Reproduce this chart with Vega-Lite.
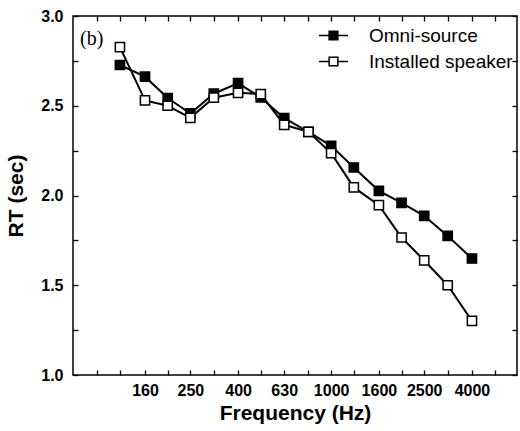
{
  "$schema": "https://vega.github.io/schema/vega-lite/v6.json",
  "width": 444,
  "height": 359,
  "autosize": "none",
  "padding": {"left": 73, "top": 16, "right": 3, "bottom": 56},
  "background": "white",
  "title": {"text": "(b)", "anchor": "start", "frame": "group", "orient": "top", "offset": -12, "dx": 7, "dy": 29, "baseline": "top", "font": "Liberation Serif", "fontSize": 20, "fontWeight": "normal", "color": "black"},
  "config": {
    "view": {"stroke": "black", "strokeWidth": 1.5},
    "axis": {"domain": false, "grid": false, "ticks": true, "tickSize": 5, "tickColor": "black", "tickWidth": 1.3, "labelColor": "black", "titleColor": "black", "labelFont": "Liberation Sans", "labelFontWeight": "bold", "labelFontSize": 16, "titleFont": "Liberation Sans", "titleFontWeight": "bold", "titleFontSize": 21}
  },
  "data": {"values": [
    {"source": "Omni-source", "freq": 125, "rt": 2.727},
    {"source": "Omni-source", "freq": 160, "rt": 2.662},
    {"source": "Omni-source", "freq": 200, "rt": 2.543},
    {"source": "Omni-source", "freq": 250, "rt": 2.457},
    {"source": "Omni-source", "freq": 315, "rt": 2.567},
    {"source": "Omni-source", "freq": 400, "rt": 2.626},
    {"source": "Omni-source", "freq": 500, "rt": 2.546},
    {"source": "Omni-source", "freq": 630, "rt": 2.431},
    {"source": "Omni-source", "freq": 800, "rt": 2.355},
    {"source": "Omni-source", "freq": 1000, "rt": 2.277},
    {"source": "Omni-source", "freq": 1250, "rt": 2.156},
    {"source": "Omni-source", "freq": 1600, "rt": 2.026},
    {"source": "Omni-source", "freq": 2000, "rt": 1.959},
    {"source": "Omni-source", "freq": 2500, "rt": 1.887},
    {"source": "Omni-source", "freq": 3150, "rt": 1.775},
    {"source": "Omni-source", "freq": 4000, "rt": 1.649},
    {"source": "Installed speaker", "freq": 125, "rt": 2.827},
    {"source": "Installed speaker", "freq": 160, "rt": 2.530},
    {"source": "Installed speaker", "freq": 200, "rt": 2.500},
    {"source": "Installed speaker", "freq": 250, "rt": 2.433},
    {"source": "Installed speaker", "freq": 315, "rt": 2.545},
    {"source": "Installed speaker", "freq": 400, "rt": 2.572},
    {"source": "Installed speaker", "freq": 500, "rt": 2.565},
    {"source": "Installed speaker", "freq": 630, "rt": 2.394},
    {"source": "Installed speaker", "freq": 800, "rt": 2.355},
    {"source": "Installed speaker", "freq": 1000, "rt": 2.236},
    {"source": "Installed speaker", "freq": 1250, "rt": 2.045},
    {"source": "Installed speaker", "freq": 1600, "rt": 1.946},
    {"source": "Installed speaker", "freq": 2000, "rt": 1.766},
    {"source": "Installed speaker", "freq": 2500, "rt": 1.638},
    {"source": "Installed speaker", "freq": 3150, "rt": 1.500},
    {"source": "Installed speaker", "freq": 4000, "rt": 1.301}
  ]},
  "layer": [
    {
      "mark": {"type": "line", "color": "black", "strokeWidth": 2},
      "encoding": {
        "x": {"field": "freq", "type": "quantitative", "scale": {"type": "log", "domain": [78.75, 6232], "nice": false},
          "axis": {"orient": "bottom", "title": "Frequency (Hz)", "format": "d", "offset": -5,
            "values": [100, 125, 160, 200, 250, 315, 400, 500, 630, 800, 1000, 1250, 1600, 2000, 2500, 3150, 4000, 5000],
            "labelExpr": "indexof([160,250,400,630,1000,1600,2500,4000], datum.value) >= 0 ? datum.label : ''",
            "labelPadding": 7, "labelFlush": false, "labelOverlap": false, "titlePadding": 4}},
        "y": {"field": "rt", "type": "quantitative", "scale": {"domain": [1, 3], "nice": false, "zero": false},
          "axis": {"orient": "left", "title": "RT (sec)", "offset": -5,
            "values": [1, 1.25, 1.5, 1.75, 2, 2.25, 2.5, 2.75, 3],
            "format": ".1f",
            "labelExpr": "(datum.value * 2) % 1 == 0 ? datum.label : ''",
            "labelPadding": 10, "labelFlush": false, "labelOverlap": false, "titlePadding": 14}},
        "detail": {"field": "source"}
      }
    },
    {
      "mark": {"type": "point", "shape": "square", "filled": true, "size": 85, "stroke": "black", "strokeWidth": 1.5, "opacity": 1},
      "encoding": {
        "x": {"field": "freq", "type": "quantitative",
          "axis": {"orient": "top", "title": null, "labels": false, "offset": -5,
            "values": [100, 125, 160, 200, 250, 315, 400, 500, 630, 800, 1000, 1250, 1600, 2000, 2500, 3150, 4000, 5000]}},
        "y": {"field": "rt", "type": "quantitative",
          "axis": {"orient": "right", "title": null, "labels": false, "offset": -5,
            "values": [1, 1.25, 1.5, 1.75, 2, 2.25, 2.5, 2.75, 3]}},
        "fill": {"field": "source", "type": "nominal",
          "scale": {"domain": ["Omni-source", "Installed speaker"], "range": ["black", "white"]},
          "legend": {"title": null, "orient": "top-right", "offset": 4, "padding": 0,
            "symbolType": "M-1,0H-0.3M0.3,0H1M-0.3,-0.3H0.3V0.3H-0.3Z",
            "symbolSize": 841, "symbolStrokeColor": "black", "symbolStrokeWidth": 1.5, "symbolOpacity": 1,
            "labelFont": "Liberation Sans", "labelFontSize": 19, "labelColor": "black", "labelOffset": 20,
            "rowPadding": -3, "labelLimit": 300}}
      }
    }
  ],
  "resolve": {"axis": {"x": "independent", "y": "independent"}}
}
